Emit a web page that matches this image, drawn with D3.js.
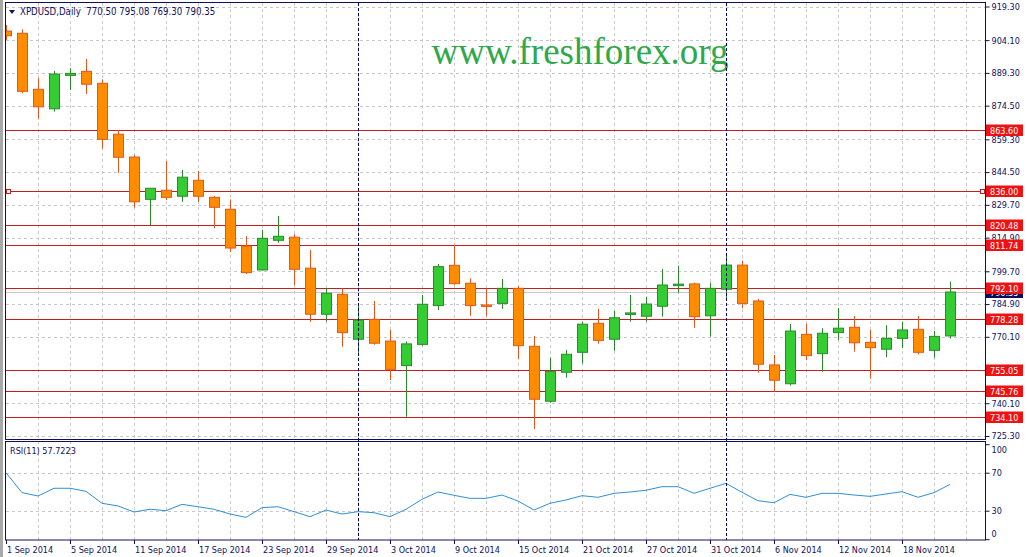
<!DOCTYPE html>
<html>
<head>
<meta charset="utf-8">
<script src="https://cdn.jsdelivr.net/npm/d3@7"></script>
<style>
body { margin: 0; background: #fff; }
svg { display: block; }
text { font-family: "DejaVu Sans Condensed", "DejaVu Sans", sans-serif; font-stretch: condensed; font-size: 9px; fill: #101060; }
</style>
</head>
<body>
<div id="chart"></div>
<script>
// XPDUSD daily, 1 Sep - 21 Nov 2014
var dates = ["2014-09-01","2014-09-02","2014-09-03","2014-09-04","2014-09-05","2014-09-08","2014-09-09","2014-09-10","2014-09-11","2014-09-12",
  "2014-09-15","2014-09-16","2014-09-17","2014-09-18","2014-09-19","2014-09-22","2014-09-23","2014-09-24","2014-09-25","2014-09-26",
  "2014-09-29","2014-09-30","2014-10-01","2014-10-02","2014-10-03","2014-10-06","2014-10-07","2014-10-08","2014-10-09","2014-10-10",
  "2014-10-13","2014-10-14","2014-10-15","2014-10-16","2014-10-17","2014-10-20","2014-10-21","2014-10-22","2014-10-23","2014-10-24",
  "2014-10-27","2014-10-28","2014-10-29","2014-10-30","2014-10-31","2014-11-03","2014-11-04","2014-11-05","2014-11-06","2014-11-07",
  "2014-11-10","2014-11-11","2014-11-12","2014-11-13","2014-11-14","2014-11-17","2014-11-18","2014-11-19","2014-11-20","2014-11-21"];

var opens = [908.2,907.2,881.9,873.1,888.2,890.0,884.6,861.6,851.3,832.2,
  836.3,833.6,840.8,833.1,827.7,811.1,800.3,813.7,815.1,801.1,
  780.3,789.3,769.0,778.0,768.2,757.1,766.7,784.2,802.4,794.3,
  784.5,785.2,792.0,765.8,741.0,754.1,763.1,776.2,769.0,780.2,
  779.4,783.9,793.3,794.0,779.6,791.6,802.5,786.3,757.4,748.9,
  771.2,762.5,772.0,774.4,767.6,764.5,769.4,773.5,764.0,770.50];
var highs = [910.9,909.0,886.9,890.2,891.4,895.6,886.4,863.5,852.2,837.4,
  849.5,845.5,845.0,833.7,832.2,815.6,818.4,824.7,816.4,809.3,
  792.0,792.0,784.8,786.3,773.2,768.0,789.0,803.0,811.6,796.5,
  792.0,796.2,793.1,770.5,760.7,764.2,776.9,782.7,781.8,789.0,
  788.2,800.7,802.2,794.6,794.6,808.1,804.4,787.2,761.9,775.9,
  775.9,774.0,783.1,779.5,773.2,775.3,776.8,779.5,772.7,795.08];
var lows = [904.2,880.1,868.6,871.8,881.6,879.8,855.1,844.2,828.4,820.6,
  831.9,831.0,831.0,819.1,808.4,798.5,800.0,812.6,793.5,776.9,
  776.9,765.6,761.9,766.5,750.6,734.0,766.1,782.2,793.6,779.6,
  779.5,782.7,760.1,728.5,740.3,751.6,758.0,767.0,763.8,776.9,
  776.9,779.2,790.0,774.2,770.2,787.1,783.0,753.9,745.3,748.0,
  759.6,754.3,768.7,763.4,751.2,760.9,765.0,762.2,760.7,769.30];
var closes = [906.1,881.0,874.0,888.8,889.1,884.2,859.3,851.2,831.1,837.2,
  833.1,842.2,833.6,828.6,810.2,799.1,814.6,815.5,800.6,780.3,
  789.8,772.0,777.7,767.2,755.4,766.9,784.8,801.8,794.1,784.2,
  784.0,792.0,766.1,741.9,754.5,762.2,775.8,768.5,778.7,780.9,
  784.9,793.5,793.9,779.2,792.0,802.5,785.2,757.7,750.5,772.7,
  761.6,771.7,774.0,767.4,765.2,769.4,773.2,763.1,770.3,790.35];

var rsi = [70.0,49.0,45.5,53.6,53.6,50.4,37.8,35.0,28.6,31.5,
  30.0,36.7,34.2,31.5,26.5,23.0,33.2,34.2,29.0,23.7,
  30.7,26.5,29.0,27.9,23.7,31.5,42.0,49.7,46.2,43.0,
  43.0,46.5,40.2,30.7,37.8,41.3,45.8,44.1,48.3,49.7,
  51.5,55.3,55.3,48.3,53.6,58.8,49.4,40.5,38.4,47.2,
  44.1,48.3,48.3,46.5,45.1,47.6,50.0,44.1,49.0,57.7];

var levels = [863.60, 836.00, 820.48, 811.74, 792.10, 778.28, 755.05, 745.76, 734.10];
var priceTicks = [919.30, 904.10, 889.30, 874.50, 859.30, 844.50, 829.70, 814.90, 799.70, 784.90, 770.10, 755.30, 740.10, 725.30];
var rsiTicks = [100, 70, 30, 0];
var rsiGrid = [70, 30];
var bid = 790.35;

var W = 1027, H = 557;
var left = 5.5, right = 985.5;
var svg = d3.select("#chart").append("svg").attr("width", W).attr("height", H);

var parse = d3.timeParse("%Y-%m-%d");
var fmt = d3.timeFormat("%-d %b %Y");
var bars = dates.map(function(d, i) {
  return { date: parse(d), i: i, o: opens[i], h: highs[i], l: lows[i], c: closes[i], r: rsi[i] };
});

var x = d3.scaleLinear().domain([0, bars.length - 1]).range([6, 6 + 16 * (bars.length - 1)]);
var y = d3.scaleLinear().domain([725.3, 919.3]).range([436, 6.5]);
var yr = d3.scaleLinear().domain([0, 100]).range([539.2, 444.2]);

// window frame strip on the left
svg.append("rect").attr("x", 0).attr("y", 0).attr("width", 3).attr("height", H).attr("fill", "#a8a8a8");

var defs = svg.append("defs");
defs.append("clipPath").attr("id", "clipMain").append("rect")
  .attr("x", 6).attr("y", 3).attr("width", right - 6).attr("height", 436);
defs.append("clipPath").attr("id", "clipRsi").append("rect")
  .attr("x", 6).attr("y", 442).attr("width", right - 6).attr("height", 98);

// grids
var gridX = d3.range(2, 62, 2).map(function(k) { return x(k); }).filter(function(v) { return v < right; });
var main = svg.append("g").attr("clip-path", "url(#clipMain)");
var rsiG = svg.append("g").attr("clip-path", "url(#clipRsi)");

main.selectAll("line.gx").data(gridX).enter().append("line")
  .attr("x1", function(d) { return Math.round(d) + 0.5; }).attr("x2", function(d) { return Math.round(d) + 0.5; })
  .attr("y1", 3).attr("y2", 439)
  .attr("stroke", "#c8c8c8").attr("stroke-dasharray", "3,3");
main.selectAll("line.gy").data(priceTicks).enter().append("line")
  .attr("x1", 6).attr("x2", right)
  .attr("y1", function(d) { return Math.round(y(d)) + 0.5; }).attr("y2", function(d) { return Math.round(y(d)) + 0.5; })
  .attr("stroke", "#c8c8c8").attr("stroke-dasharray", "3,3");

rsiG.selectAll("line.gx").data(gridX).enter().append("line")
  .attr("x1", function(d) { return Math.round(d) + 0.5; }).attr("x2", function(d) { return Math.round(d) + 0.5; })
  .attr("y1", 441).attr("y2", 540)
  .attr("stroke", "#c8c8c8").attr("stroke-dasharray", "3,3");
rsiG.selectAll("line.gy").data(rsiGrid).enter().append("line")
  .attr("x1", 6).attr("x2", right)
  .attr("y1", function(d) { return Math.round(yr(d)) + 0.5; }).attr("y2", function(d) { return Math.round(yr(d)) + 0.5; })
  .attr("stroke", "#c8c8c8").attr("stroke-dasharray", "3,3");

// bid line
main.append("line").attr("x1", 6).attr("x2", right)
  .attr("y1", Math.round(y(bid)) + 0.5).attr("y2", Math.round(y(bid)) + 0.5)
  .attr("stroke", "#c8c8c8");

// watermark
svg.append("text").attr("x", 580).attr("y", 64).attr("text-anchor", "middle")
  .style("font-family", "'Liberation Serif', 'Times New Roman', serif").style("font-size", "37px").style("font-stretch", "normal")
  .style("fill", "#2fa84a").text("www.freshforex.org");

// horizontal levels
main.selectAll("line.lv").data(levels).enter().append("line")
  .attr("x1", 6).attr("x2", right)
  .attr("y1", function(d) { return Math.round(y(d)) + 0.5; }).attr("y2", function(d) { return Math.round(y(d)) + 0.5; })
  .attr("stroke", "#c41e1e");

// month separators
var seps = bars.filter(function(b, i) { return i > 0 && b.date.getMonth() !== bars[i - 1].date.getMonth(); });
svg.selectAll("line.sep").data(seps).enter().append("line")
  .attr("x1", function(d) { return Math.round(x(d.i)) + 0.5; }).attr("x2", function(d) { return Math.round(x(d.i)) + 0.5; })
  .attr("y1", 3).attr("y2", 540)
  .attr("stroke", "#000060").attr("stroke-dasharray", "3,2");

// candles
var up = function(d) { return d.c >= d.o; };
main.selectAll("line.wick").data(bars).enter().append("line")
  .attr("x1", function(d) { return Math.round(x(d.i)) + 0.5; }).attr("x2", function(d) { return Math.round(x(d.i)) + 0.5; })
  .attr("y1", function(d) { return y(d.h); }).attr("y2", function(d) { return y(d.l); })
  .attr("stroke", function(d) { return up(d) ? "#2a8a2a" : "#e4561c"; });
main.selectAll("rect.body").data(bars).enter().append("rect")
  .attr("x", function(d) { return Math.round(x(d.i)) - 4.5; })
  .attr("width", 10)
  .attr("y", function(d) { return y(Math.max(d.o, d.c)); })
  .attr("height", function(d) { return Math.max(1.5, Math.abs(y(d.o) - y(d.c))); })
  .attr("fill", function(d) { return up(d) ? "#33cc33" : "#ff8c00"; })
  .attr("stroke", function(d) { return up(d) ? "#2a8a2a" : "#e4561c"; });

// selected-line markers on 836.00
svg.append("rect").attr("x", 6.5).attr("y", Math.round(y(836)) - 1.5).attr("width", 4).attr("height", 4)
  .attr("fill", "#fff").attr("stroke", "#c41e1e");
svg.append("rect").attr("x", 980.5).attr("y", Math.round(y(836)) - 1.5).attr("width", 4).attr("height", 4)
  .attr("fill", "#fff").attr("stroke", "#c41e1e");

// rsi line
rsiG.append("path").datum(bars)
  .attr("d", d3.line().x(function(d) { return x(d.i); }).y(function(d) { return yr(d.r); }))
  .attr("fill", "none").attr("stroke", "#2f8fd8").attr("stroke-width", 1);

// panel borders
svg.append("rect").attr("x", left).attr("y", 2.5).attr("width", right - left).attr("height", 437)
  .attr("fill", "none").attr("stroke", "#10105a");
svg.append("rect").attr("x", left).attr("y", 441.5).attr("width", right - left).attr("height", 98.5)
  .attr("fill", "none").attr("stroke", "#10105a");

// right price axis
var yAxis = d3.axisRight(y).tickValues(priceTicks).tickSize(4).tickPadding(2)
  .tickFormat(d3.format(".2f"));
var ga = svg.append("g").attr("transform", "translate(" + right + ",0)").call(yAxis);
ga.select(".domain").remove();
ga.selectAll("line").attr("stroke", "#10105a");
ga.selectAll("text").attr("fill", "#101060").attr("font-family", null).attr("font-size", null);

// bid label (navy) then level labels (red)
svg.append("rect").attr("x", 986).attr("y", Math.round(y(bid)) - 5).attr("width", 37).attr("height", 11).attr("fill", "#0c0c5c");
svg.append("text").attr("x", 990).attr("y", Math.round(y(bid)) + 4).style("fill", "#fff").text(d3.format(".2f")(bid));
var lab = svg.selectAll("g.lab").data(levels).enter().append("g")
  .attr("transform", function(d) { return "translate(986," + Math.round(y(d)) + ")"; });
lab.append("rect").attr("x", 0).attr("y", -5.5).attr("width", 37).attr("height", 11.5).attr("fill", "#f01212");
lab.append("text").attr("x", 4).attr("y", 3.5).style("fill", "#fff").text(function(d) { return d3.format(".2f")(d); });

// rsi axis
var rAxis = d3.axisRight(yr).tickValues(rsiTicks).tickSize(4).tickPadding(2);
var gr = svg.append("g").attr("transform", "translate(" + right + ",0)").call(rAxis);
gr.select(".domain").remove();
gr.selectAll("line").attr("stroke", "#10105a");
gr.selectAll("text").attr("fill", "#101060").attr("font-family", null).attr("font-size", null)
  .attr("dy", function(d) { return d === 100 ? "0.9em" : (d === 0 ? "-0.3em" : "0.32em"); });

// date axis
var labelIdx = d3.range(0, bars.length, 4);
var gx = svg.append("g");
gx.selectAll("line").data(labelIdx).enter().append("line")
  .attr("x1", function(i) { return Math.round(x(i)) + 0.5; }).attr("x2", function(i) { return Math.round(x(i)) + 0.5; })
  .attr("y1", 540).attr("y2", 544).attr("stroke", "#10105a");
gx.selectAll("text").data(labelIdx).enter().append("text")
  .attr("x", function(i) { return x(i) + 1; }).attr("y", 553)
  .text(function(i) { return fmt(bars[i].date); });

// headers
svg.append("path").attr("d", "M9,10 L15,10 L12,14 Z").attr("fill", "#101060");
svg.append("text").attr("x", 20).attr("y", 15).attr("xml:space", "preserve").style("white-space", "pre")
  .style("font-size", "9.6px")
  .text("XPDUSD,Daily  " + [opens[59], highs[59], lows[59], closes[59]].map(d3.format(".2f")).join(" "));
svg.append("text").attr("x", 10).attr("y", 454)
  .text("RSI(11) " + "57.7223");
</script>
</body>
</html>
